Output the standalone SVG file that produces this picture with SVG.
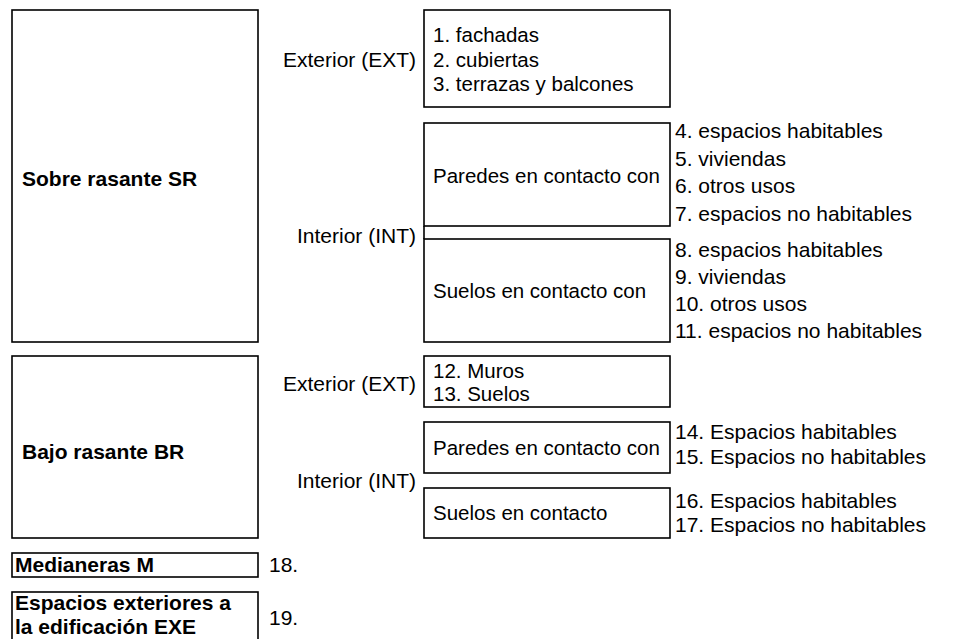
<svg xmlns="http://www.w3.org/2000/svg" width="976" height="639" viewBox="0 0 976 639">
<style>
.box{fill:#fff;stroke:#000;stroke-width:1.6}
.t{font-family:"Liberation Sans",Arial,sans-serif;font-size:21px;fill:#000}
.s{font-size:20.5px}
.b{font-weight:bold}
.r{text-anchor:end}
.ln{stroke:#000;stroke-width:1.6;fill:none}
</style>
<rect width="976" height="639" fill="#fff"/>
<g id="connectors">
<line class="ln" x1="424" y1="226" x2="424" y2="239"/>
</g>
<g id="sr">
<rect class="box" x="12" y="10" width="246" height="332"/>
<text class="t b" x="22" y="186">Sobre rasante SR</text>
</g>
<g id="sr-ext-label"><text class="t r" x="416" y="67">Exterior (EXT)</text></g>
<g id="sr-int-label"><text class="t r" x="416" y="243">Interior (INT)</text></g>
<g id="sr-ext">
<rect class="box" x="424" y="10" width="246" height="97"/>
<text class="t s" x="433" y="42">1. fachadas</text>
<text class="t s" x="433" y="66.5">2. cubiertas</text>
<text class="t s" x="433" y="91">3. terrazas y balcones</text>
</g>
<g id="sr-paredes">
<rect class="box" x="424" y="123" width="246" height="103"/>
<text class="t s" x="433" y="183">Paredes en contacto con</text>
</g>
<g id="sr-paredes-list">
<text class="t" x="675" y="138">4. espacios habitables</text>
<text class="t" x="675" y="165.5">5. viviendas</text>
<text class="t" x="675" y="193">6. otros usos</text>
<text class="t" x="675" y="220.5">7. espacios no habitables</text>
</g>
<g id="sr-suelos">
<rect class="box" x="424" y="239" width="246" height="103"/>
<text class="t s" x="433" y="298">Suelos en contacto con</text>
</g>
<g id="sr-suelos-list">
<text class="t" x="675" y="257">8. espacios habitables</text>
<text class="t" x="675" y="284">9. viviendas</text>
<text class="t" x="675" y="311">10. otros usos</text>
<text class="t" x="675" y="338">11. espacios no habitables</text>
</g>
<g id="br">
<rect class="box" x="12" y="356" width="246" height="182"/>
<text class="t b" x="22" y="459">Bajo rasante BR</text>
</g>
<g id="br-ext-label"><text class="t r" x="416" y="391">Exterior (EXT)</text></g>
<g id="br-int-label"><text class="t r" x="416" y="488">Interior (INT)</text></g>
<g id="br-ext">
<rect class="box" x="424" y="356" width="246" height="51"/>
<text class="t s" x="433" y="378">12. Muros</text>
<text class="t s" x="433" y="401">13. Suelos</text>
</g>
<g id="br-paredes">
<rect class="box" x="424" y="422" width="246" height="51"/>
<text class="t s" x="433" y="455">Paredes en contacto con</text>
</g>
<g id="br-paredes-list">
<text class="t" x="675" y="439">14. Espacios habitables</text>
<text class="t" x="675" y="463.5">15. Espacios no habitables</text>
</g>
<g id="br-suelos">
<rect class="box" x="424" y="488" width="246" height="50"/>
<text class="t s" x="433" y="520">Suelos en contacto</text>
</g>
<g id="br-suelos-list">
<text class="t" x="675" y="507.5">16. Espacios habitables</text>
<text class="t" x="675" y="532">17. Espacios no habitables</text>
</g>
<g id="medianeras">
<rect class="box" x="12" y="553" width="246" height="24"/>
<text class="t b" x="15" y="572">Medianeras M</text>
</g>
<g id="medianeras-item"><text class="t" x="269" y="572">18.</text></g>
<g id="exe">
<rect class="box" x="12" y="592" width="246" height="52"/>
<text class="t b" x="15" y="610">Espacios exteriores a</text>
<text class="t b" x="15" y="634">la edificación EXE</text>
</g>
<g id="exe-item"><text class="t" x="269" y="625">19.</text></g>
</svg>
